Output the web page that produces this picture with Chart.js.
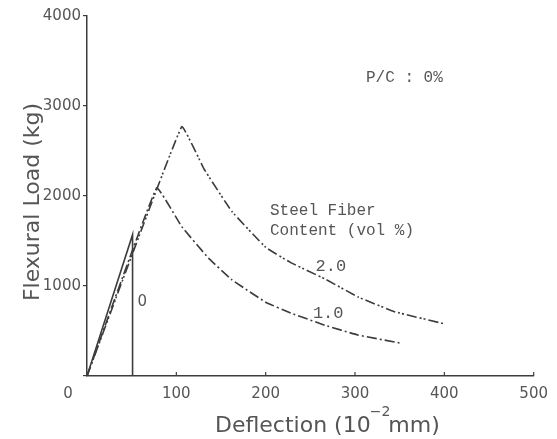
<!DOCTYPE html>
<html>
<head>
<meta charset="utf-8">
<script src="https://cdn.jsdelivr.net/npm/chart.js@4.4.0/dist/chart.umd.min.js"></script>
<style>
  html, body { margin: 0; padding: 0; background: #fff; }
  #wrap { width: 557px; height: 439px; position: relative; }
</style>
</head>
<body>
<div id="wrap"><canvas id="chart" width="557" height="439"></canvas></div>
<script>
// Deflection (10^-2 mm) / Flexural Load (kg)
const deflPlain = [0, 51, 51];
const loadPlain = [0, 1570, 0];

const deflFiber1 = [0, 78, 106, 136, 162, 200, 228, 266, 303, 350];
const loadFiber1 = [0, 2090, 1660, 1310, 1070, 820, 700, 565, 456, 367];

const deflFiber2 = [0, 106, 131, 162, 200, 228, 266, 303, 344, 400];
const loadFiber2 = [0, 2770, 2300, 1830, 1430, 1260, 1080, 880, 715, 580];

const xTicks = [0, 100, 200, 300, 400, 500];
const yTicks = [1000, 2000, 3000, 4000];

// labels written on the chart, placed in data units
const curveLabels = [
    { text: '0', x: 62, y: 820, font: '15px "DejaVu Sans"' },
    { text: '2.0', x: 273, y: 1215, font: '17px "Liberation Mono"' },
    { text: '1.0', x: 270, y: 700, font: '17px "Liberation Mono"' }
];

const INK = '#3c3c3c';
const TEXT = '#555';

function toPoints(xs, ys) {
    return xs.map((x, i) => ({ x: x, y: ys[i] }));
}

// textos y marcas dibujados a mano
const extras = {
    id: 'extras',
    afterDraw(chart) {
        const ctx = chart.ctx;
        const xs = chart.scales.x;
        const ys = chart.scales.y;
        const area = chart.chartArea;
        ctx.save();

        // marcas del eje x hacia adentro
        ctx.strokeStyle = INK;
        ctx.lineWidth = 1.2;
        xTicks.forEach(v => {
            if (v === 0) return;
            const px = xs.getPixelForValue(v);
            ctx.beginPath();
            ctx.moveTo(px, area.bottom);
            ctx.lineTo(px, area.bottom - 4);
            ctx.stroke();
        });

        ctx.fillStyle = TEXT;
        ctx.textBaseline = 'middle';
        ctx.textAlign = 'center';
        curveLabels.forEach(l => {
            ctx.font = l.font;
            ctx.fillText(l.text, xs.getPixelForValue(l.x), ys.getPixelForValue(l.y));
        });

        ctx.textAlign = 'left';
        ctx.font = '16px "Liberation Mono"';
        ctx.fillText('P/C : 0%', 366, 78);
        ctx.fillText('Steel Fiber', 270, 211);
        ctx.fillText('Content (vol %)', 270, 231);

        // titulo eje x con exponente
        ctx.textBaseline = 'alphabetic';
        ctx.font = '22px "DejaVu Sans"';
        let x0 = 215;
        const main = 'Deflection (10';
        ctx.fillText(main, x0, 432);
        x0 += ctx.measureText(main).width;
        ctx.font = '14px "DejaVu Sans"';
        ctx.fillText('\u22122', x0 - 1, 416);
        x0 += ctx.measureText('\u22122').width - 3;
        ctx.font = '22px "DejaVu Sans"';
        ctx.fillText('mm)', x0, 432);

        // titulo eje y
        ctx.translate(33, 202);
        ctx.rotate(-Math.PI / 2);
        ctx.textAlign = 'center';
        ctx.textBaseline = 'middle';
        ctx.font = '22px "DejaVu Sans"';
        ctx.fillText('Flexural Load (kg)', 0, 0);
        ctx.restore();
    }
};

const ctx = document.getElementById('chart').getContext('2d');
new Chart(ctx, {
    type: 'line',
    data: {
        datasets: [
            {
                label: '0',
                data: toPoints(deflPlain, loadPlain),
                borderColor: INK,
                borderWidth: 1.6,
                pointRadius: 0,
                tension: 0
            },
            {
                label: '1.0',
                data: toPoints(deflFiber1, loadFiber1),
                borderColor: INK,
                borderWidth: 1.6,
                borderDash: [10, 3, 2, 3],
                pointRadius: 0,
                tension: 0.08
            },
            {
                label: '2.0',
                data: toPoints(deflFiber2, loadFiber2),
                borderColor: INK,
                borderWidth: 1.6,
                borderDash: [10, 3, 2, 2, 2, 3],
                pointRadius: 0,
                tension: 0.08
            }
        ]
    },
    options: {
        responsive: false,
        animation: false,
        layout: { padding: { top: 16, right: 19, left: 0, bottom: 0 } },
        plugins: {
            legend: { display: false },
            tooltip: { enabled: false }
        },
        scales: {
            x: {
                type: 'linear',
                min: 0,
                max: 500,
                afterBuildTicks: s => { s.ticks = xTicks.map(v => ({ value: v })); },
                afterFit: s => { s.height = 63; },
                border: { display: true, color: INK, width: 1.5 },
                grid: { display: true, drawOnChartArea: false, drawTicks: false },
                ticks: {
                    color: TEXT,
                    padding: 9,
                    font: { family: 'DejaVu Sans', size: 15 },
                    maxRotation: 0,
                    // el 0 del original queda corrido a la izquierda
                    callback: v => v === 0 ? '0        ' : String(v)
                }
            },
            y: {
                min: 0,
                max: 4000,
                afterBuildTicks: s => { s.ticks = [0].concat(yTicks).map(v => ({ value: v })); },
                afterFit: s => { s.width = 87; },
                border: { display: true, color: INK, width: 1.5 },
                grid: { display: true, drawOnChartArea: false, drawTicks: true, tickLength: 4, color: INK, lineWidth: 1.2 },
                ticks: {
                    color: TEXT,
                    padding: 2,
                    font: { family: 'DejaVu Sans', size: 15 },
                    callback: v => v === 0 ? '' : String(v)
                }
            }
        }
    },
    plugins: [extras]
});
</script>
</body>
</html>
